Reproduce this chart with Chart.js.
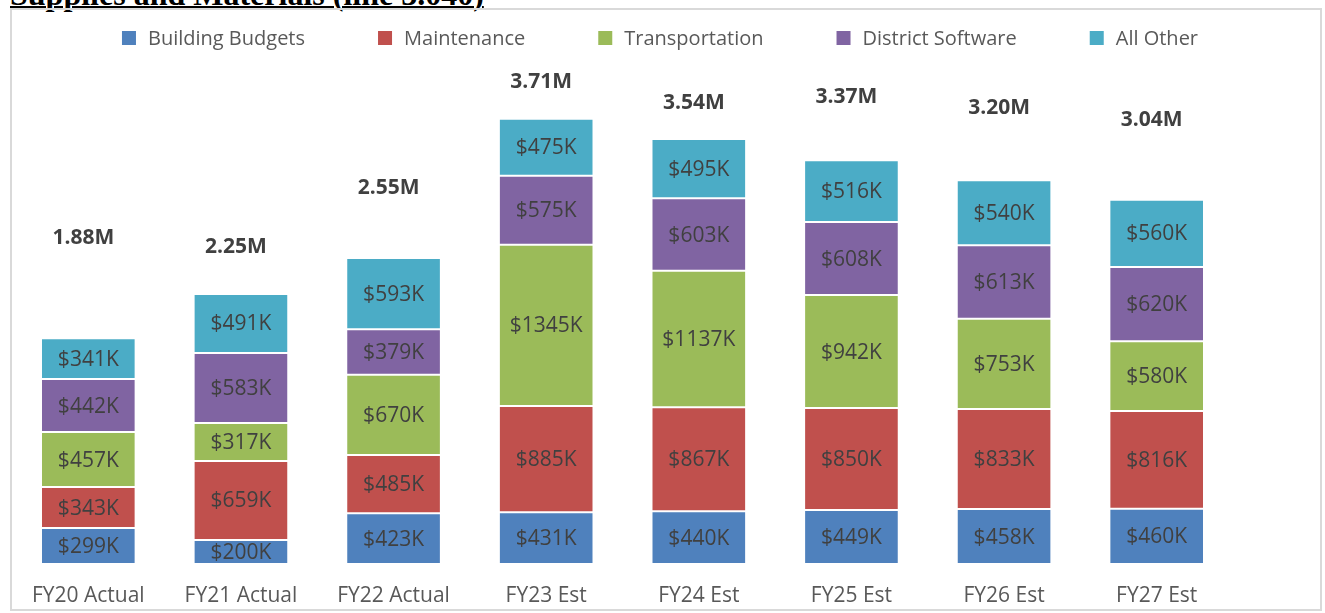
<!DOCTYPE html>
<html>
<head>
<meta charset="utf-8">
<script src="https://cdn.jsdelivr.net/npm/chart.js@4"></script>
<style>
  body { margin: 0; background: #fff; width: 1325px; height: 613px; overflow: hidden; position: relative; }
  #title { position: absolute; left: 10px; top: -22px; font: bold 32px "Liberation Serif", serif; line-height: 32px;
           color: #000; text-decoration: underline; text-decoration-thickness: 2px; text-underline-offset: 1px; white-space: nowrap; }
  #box { position: absolute; left: 10px; top: 8px; width: 1312px; height: 603px; border: 2px solid #d9d9d9; box-sizing: border-box; }
</style>
</head>
<body>
<div id="title">Supplies and Materials (line 3.040)</div>
<div id="box"><canvas id="chart" width="1308" height="599"></canvas></div>
<script>
// values in $K
const years = ['FY20 Actual','FY21 Actual','FY22 Actual','FY23 Est','FY24 Est','FY25 Est','FY26 Est','FY27 Est'];
const building  = [299, 200, 423, 431, 440, 449, 458, 460];
const maint     = [343, 659, 485, 885, 867, 850, 833, 816];
const transport = [457, 317, 670, 1345, 1137, 942, 753, 580];
const software  = [442, 583, 379, 575, 603, 608, 613, 620];
const other     = [341, 491, 593, 475, 495, 516, 540, 560];

// where the total labels sit (in $K on the value axis)
const totalLabelAt = [2717, 2642, 3133, 4017, 3842, 3892, 3800, 3700];

const FONT = '"Open Sans", "Noto Sans", sans-serif';

const series = [
  { label: 'Building Budgets',  data: building,  color: '#4F81BD' },
  { label: 'Maintenance',       data: maint,     color: '#C0504D' },
  { label: 'Transportation',    data: transport, color: '#9BBB59' },
  { label: 'District Software', data: software,  color: '#8064A2' },
  { label: 'All Other',         data: other,     color: '#4BACC6' },
];

// segment labels + totals
const labelsPlugin = {
  id: 'labels',
  afterDatasetsDraw(chart) {
    const ctx = chart.ctx;
    ctx.save();
    ctx.textAlign = 'center';
    ctx.textBaseline = 'middle';
    ctx.font = '21px ' + FONT;
    ctx.fillStyle = '#404040';
    chart.data.datasets.forEach((ds, i) => {
      chart.getDatasetMeta(i).data.forEach((bar, j) => {
        const mid = (bar.y + bar.base) / 2;
        ctx.fillText('$' + ds.data[j] + 'K', bar.x, mid + 1);
      });
    });
    const y = chart.scales.y;
    ctx.font = 'bold 21px ' + FONT;
    years.forEach((yr, j) => {
      const sum = chart.data.datasets.reduce((s, ds) => s + ds.data[j], 0);
      const txt = (Math.round(sum / 10) / 100).toFixed(2) + 'M';
      const x = chart.getDatasetMeta(0).data[j].x - 5;
      ctx.fillText(txt, x, y.getPixelForValue(totalLabelAt[j]));
    });
    ctx.restore();
  }
};

// Excel-like wide legend
const legendPlugin = {
  id: 'wideLegend',
  afterDraw(chart) {
    const ctx = chart.ctx;
    const gap = 73, box = 14;
    ctx.save();
    ctx.font = '20px ' + FONT;
    ctx.textBaseline = 'middle';
    const items = chart.data.datasets.map(ds => ({ ds, w: box + 12 + ctx.measureText(ds.label).width }));
    const total = items.reduce((s, it) => s + it.w, 0) + gap * (items.length - 1);
    let x = chart.width / 2 - 6 - total / 2;
    const cy = 28;
    items.forEach(it => {
      ctx.fillStyle = it.ds.backgroundColor;
      ctx.fillRect(x, cy - box / 2, box, box);
      ctx.fillStyle = '#595959';
      ctx.fillText(it.ds.label, x + box + 12, cy + 1);
      x += it.w + gap;
    });
    ctx.restore();
  }
};

new Chart(document.getElementById('chart'), {
  type: 'bar',
  data: {
    labels: years,
    datasets: series.map(s => ({
      label: s.label, data: s.data, backgroundColor: s.color,
      borderColor: 'rgba(255,255,255,0.4)', borderWidth: 1, borderSkipped: false
    }))
  },
  options: {
    responsive: false,
    animation: false,
    layout: { padding: { top: 50, right: 87, left: 0, bottom: 0 } },
    plugins: { legend: { display: false }, tooltip: { enabled: false } },
    datasets: { bar: { categoryPercentage: 1, barPercentage: 0.62 } },
    scales: {
      x: { stacked: true, grid: { display: false, drawTicks: false }, border: { display: false },
           ticks: { color: '#595959', font: { family: FONT, size: 21 }, padding: 19 },
           afterFit(scale) { scale.height = 45; } },
      y: { stacked: true, display: false, min: 0, max: 4200 }
    }
  },
  plugins: [labelsPlugin, legendPlugin]
});
</script>
</body>
</html>
